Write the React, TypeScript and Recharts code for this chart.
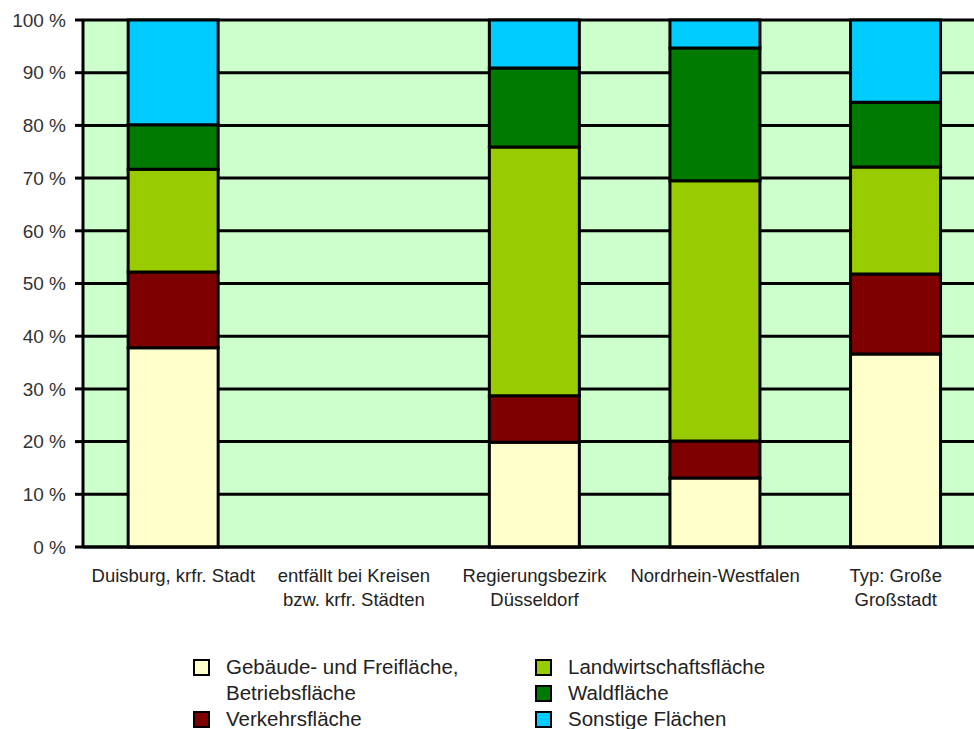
import { BarChart, Bar, XAxis, YAxis, CartesianGrid } from 'recharts'

const kategorien = [
  'Duisburg, krfr. Stadt',
  'entfällt bei Kreisen\nbzw. krfr. Städten',
  'Regierungsbezirk\nDüsseldorf',
  'Nordrhein-Westfalen',
  'Typ: Große\nGroßstadt',
]
const gebaeude = [37.8, null, 19.9, 13.1, 36.6]
const verkehr = [14.4, null, 8.8, 7.0, 15.2]
const landwirtschaft = [19.5, null, 47.2, 49.4, 20.3]
const wald = [8.4, null, 15.0, 25.2, 12.3]
const sonstige = [19.9, null, 9.1, 5.3, 15.6]
const yTicks = [0, 10, 20, 30, 40, 50, 60, 70, 80, 90, 100]

const SERIEN = [
  { key: 'gebaeude', name: 'Gebäude- und Freifläche,\nBetriebsfläche', color: '#ffffcc', values: gebaeude },
  { key: 'verkehr', name: 'Verkehrsfläche', color: '#7f0000', values: verkehr },
  { key: 'landwirtschaft', name: 'Landwirtschaftsfläche', color: '#99cc00', values: landwirtschaft },
  { key: 'wald', name: 'Waldfläche', color: '#007a00', values: wald },
  { key: 'sonstige', name: 'Sonstige Flächen', color: '#00ccff', values: sonstige },
]

const data = kategorien.map((name, i) => {
  const row: Record<string, string | number | null> = { name }
  SERIEN.forEach((s) => { row[s.key] = s.values[i] })
  return row
})

const FONT = '"Liberation Sans", Arial, sans-serif'

function XTick(props: { x?: number; y?: number; payload?: { value: string } }) {
  const { x = 0, y = 0, payload } = props
  const lines = (payload?.value ?? '').split('\n')
  return (
    <text x={x} y={y} textAnchor="middle" fill="#222" fontSize={18.5} fontFamily={FONT}>
      {lines.map((l, i) => (
        <tspan key={i} x={x} dy={i === 0 ? 27 : 24}>{l}</tspan>
      ))}
    </text>
  )
}

function LegendItem({ name, color }: { name: string; color: string }) {
  return (
    <div style={{ display: 'flex', alignItems: 'flex-start' }}>
      <span style={{
        width: 13, height: 13, marginTop: 5, border: '2px solid #000',
        background: color, flexShrink: 0,
      }} />
      <span style={{ marginLeft: 16, whiteSpace: 'pre-line', lineHeight: '26px' }}>{name}</span>
    </div>
  )
}

export default function App() {
  const links = [SERIEN[0], SERIEN[1]]
  const rechts = [SERIEN[2], SERIEN[3], SERIEN[4]]
  return (
    <div style={{ position: 'fixed', left: 0, top: 0, width: 974, height: 729, overflow: 'hidden', background: '#fff' }}>
      <BarChart
        width={986}
        height={729}
        data={data}
        margin={{ top: 20, right: 0, left: 0, bottom: 0 }}
        barCategoryGap="25%"
      >
        <CartesianGrid vertical={false} stroke="#000" strokeWidth={3} fill="#ccffcc" fillOpacity={1} />
        <XAxis
          dataKey="name"
          height={182}
          interval={0}
          tick={<XTick />}
          tickLine={false}
          axisLine={{ stroke: '#000', strokeWidth: 3 }}
        />
        <YAxis
          width={83}
          domain={[0, 100]}
          ticks={yTicks}
          tickFormatter={(v: number) => `${v} %`}
          tick={{ fill: '#333', fontSize: 19, fontFamily: FONT }}
          tickSize={8}
          tickMargin={9}
          tickLine={{ stroke: '#000', strokeWidth: 3 }}
          axisLine={{ stroke: '#000', strokeWidth: 3 }}
        />
        {SERIEN.map((s) => (
          <Bar
            key={s.key}
            dataKey={s.key}
            stackId="a"
            fill={s.color}
            stroke="#000"
            strokeWidth={3}
            isAnimationActive={false}
          />
        ))}
      </BarChart>
      <div style={{
        position: 'absolute', left: 193, top: 654, fontFamily: FONT, fontSize: 20.5, color: '#222',
      }}>
        {links.map((s) => <LegendItem key={s.key} name={s.name} color={s.color} />)}
      </div>
      <div style={{
        position: 'absolute', left: 535, top: 654, fontFamily: FONT, fontSize: 20.5, color: '#222',
      }}>
        {rechts.map((s) => <LegendItem key={s.key} name={s.name} color={s.color} />)}
      </div>
    </div>
  )
}
